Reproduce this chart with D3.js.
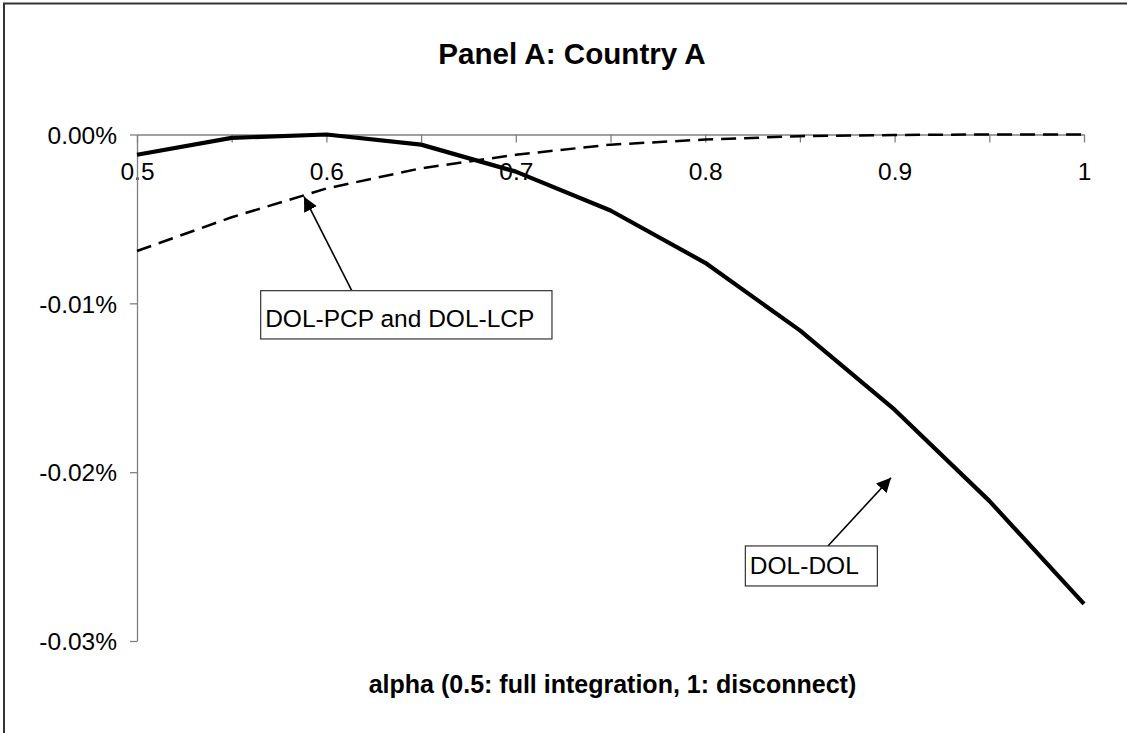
<!DOCTYPE html>
<html>
<head>
<meta charset="utf-8">
<script src="https://cdn.jsdelivr.net/npm/d3@7"></script>
<style>
  html, body { margin: 0; padding: 0; background: #fff; }
  svg { display: block; font-family: "Liberation Sans", Arial, sans-serif; }
</style>
</head>
<body>
<svg id="chart" width="1127" height="733"></svg>
<script>
// ---- data (values in percent units) ----
const alphas = [0.5, 0.55, 0.6, 0.65, 0.7, 0.75, 0.8, 0.85, 0.9, 0.95, 1.0];
const dolDol = [-0.0012, -0.0002, 0.0000, -0.0006, -0.0022, -0.0045, -0.0076, -0.0116, -0.0163, -0.0217, -0.0278];
const dolPcpLcp = [-0.0069, -0.0049, -0.0032, -0.0020, -0.0012, -0.0006, -0.0003, -0.0001, -0.00003, 0.0000, 0.0000];
const xTickLabels = ["0.5", "", "0.6", "", "0.7", "", "0.8", "", "0.9", "", "1"];
const yTicks = [0, -0.01, -0.02, -0.03];
const yTickLabels = ["0.00%", "-0.01%", "-0.02%", "-0.03%"];
const titleText = "Panel A: Country A";
const xAxisTitle = "alpha (0.5: full integration, 1: disconnect)";
// annotations in data coordinates
const annotations = [
  { text: "DOL-PCP and DOL-LCP", box: [0.5653, -0.00925, 0.7191, -0.01211], from: [0.6134, -0.00925], to: [0.5882, -0.00368] },
  { text: "DOL-DOL", box: [0.8212, -0.02437, 0.8909, -0.02674], from: [0.8648, -0.02437], to: [0.8981, -0.02033] }
];

const svg = d3.select("#chart");
const x = d3.scaleLinear().domain([0.5, 1]).range([137, 1084]);
const y = d3.scaleLinear().domain([0, -0.03]).range([134.5, 641]);

// outer chart border (left + top)
svg.append("path")
  .attr("d", "M4,733 L4,3.5 L1127,3.5")
  .attr("fill", "none").attr("stroke", "#333").attr("stroke-width", 2);

// title
svg.append("text").attr("x", 572).attr("y", 64)
  .attr("text-anchor", "middle").attr("font-weight", "bold").attr("font-size", 29.6)
  .text(titleText);

// x axis (at y=0)
const xAxis = svg.append("g").attr("transform", `translate(0,${y(0)})`)
  .call(d3.axisBottom(x).tickValues(alphas).tickSize(8).tickSizeOuter(0)
    .tickFormat((d, i) => xTickLabels[i]));
xAxis.selectAll("path, line").attr("stroke", "#808080").attr("stroke-width", 1.3);
xAxis.selectAll("text").attr("dy", null).attr("y", 45.5)
  .attr("font-size", 24.5).attr("fill", "#000").attr("font-family", "Liberation Sans, Arial, sans-serif");

// y axis
const yAxis = svg.append("g").attr("transform", `translate(${x(0.5)},0)`)
  .call(d3.axisLeft(y).tickValues(yTicks).tickSize(7).tickSizeOuter(0)
    .tickFormat((d, i) => yTickLabels[i]).tickPadding(13));
yAxis.selectAll("path, line").attr("stroke", "#808080").attr("stroke-width", 1.3);
yAxis.selectAll("text").attr("font-size", 24.5).attr("fill", "#000").attr("dy", "0.36em")
  .attr("font-family", "Liberation Sans, Arial, sans-serif");

// lines
const line = d3.line().x((d, i) => x(alphas[i])).y(d => y(d));
svg.append("path").datum(dolPcpLcp).attr("d", line)
  .attr("fill", "none").attr("stroke", "#000").attr("stroke-width", 2.5)
  .attr("stroke-dasharray", "15,8");
svg.append("path").datum(dolDol).attr("d", line)
  .attr("fill", "none").attr("stroke", "#000").attr("stroke-width", 4.2)
  .attr("stroke-linejoin", "round");

// arrow marker
svg.append("defs").append("marker")
  .attr("id", "arrow").attr("viewBox", "0 0 10 10").attr("refX", 10).attr("refY", 5)
  .attr("markerWidth", 9).attr("markerHeight", 9).attr("markerUnits", "strokeWidth")
  .attr("orient", "auto")
  .append("path").attr("d", "M0,0 L10,5 L0,10 Z").attr("fill", "#000");

// annotations
annotations.forEach(a => {
  svg.append("line")
    .attr("x1", x(a.from[0])).attr("y1", y(a.from[1]))
    .attr("x2", x(a.to[0])).attr("y2", y(a.to[1]))
    .attr("stroke", "#000").attr("stroke-width", 1.6).attr("marker-end", "url(#arrow)");
  const bx0 = x(a.box[0]), by0 = y(a.box[1]), bx1 = x(a.box[2]), by1 = y(a.box[3]);
  svg.append("rect").attr("x", bx0).attr("y", by0).attr("width", bx1 - bx0).attr("height", by1 - by0)
    .attr("fill", "#fff").attr("stroke", "#333").attr("stroke-width", 1.2);
  svg.append("text").attr("x", bx0 + 4.5).attr("y", by1 - 12)
    .attr("font-size", 24.5).attr("fill", "#000").text(a.text);
});

// x-axis title
svg.append("text").attr("x", 612.5).attr("y", 693)
  .attr("text-anchor", "middle").attr("font-weight", "bold").attr("font-size", 25)
  .text(xAxisTitle);
</script>
</body>
</html>
